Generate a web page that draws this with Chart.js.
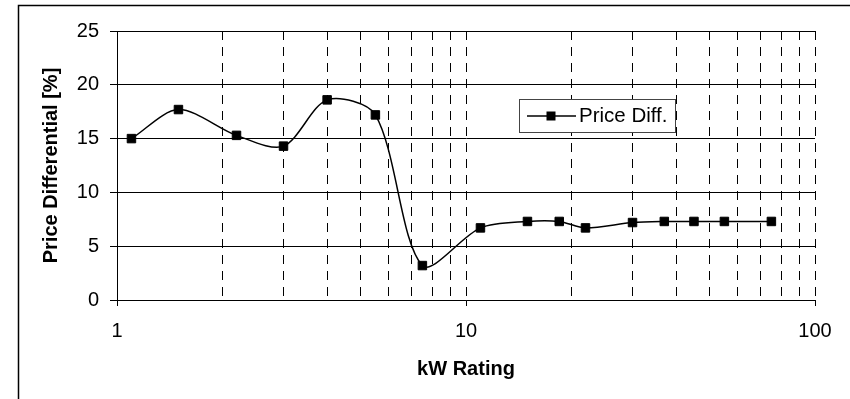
<!DOCTYPE html>
<html>
<head>
  <title>Price Differential vs kW Rating</title>
  <script src="https://cdn.jsdelivr.net/npm/chart.js"></script>
  <style>
    body { margin: 0; background: #fff; }
    #wrap { position: relative; width: 850px; height: 399px; }
  </style>
</head>
<body>

<div id="wrap">
  <canvas id="diffChart" width="850" height="399"></canvas>
</div>

<script>
  // data
  const kwRating  = [1.1, 1.5, 2.2, 3, 4, 5.5, 7.5, 11, 15, 18.5, 22, 30, 37, 45, 55, 75];
  const priceDiff = [15.0, 17.7, 15.3, 14.3, 18.6, 17.2, 3.2, 6.7, 7.3, 7.3, 6.7, 7.2, 7.3, 7.3, 7.3, 7.3];
  const seriesName = 'Price Diff.';

  // axis ticks
  const xGridValues = [1, 2, 3, 4, 5, 6, 7, 8, 9, 10, 20, 30, 40, 50, 60, 70, 80, 90, 100];
  const xTickLabels = [1, 10, 100];
  const yTicks = [0, 5, 10, 15, 20, 25];

  const FONT = 'Arial, "Liberation Sans", sans-serif';

  // outer frame + legend box
  const framePlugin = {
    id: 'frame',
    beforeDraw(chart) {
      const ctx = chart.ctx;
      ctx.save();
      ctx.strokeStyle = '#000';
      ctx.lineWidth = 1.5;
      ctx.beginPath();
      ctx.moveTo(18.5, 420);
      ctx.lineTo(18.5, 5.5);
      ctx.lineTo(860, 5.5);
      ctx.stroke();
      ctx.restore();
    },
    afterDraw(chart) {
      const ctx = chart.ctx;
      const ds = chart.data.datasets[0];
      ctx.save();
      ctx.fillStyle = '#fff';
      ctx.fillRect(519.5, 99.5, 156, 33);
      ctx.strokeStyle = '#444';
      ctx.lineWidth = 1;
      ctx.strokeRect(519.5, 99.5, 156, 33);
      ctx.strokeStyle = '#000';
      ctx.lineWidth = 1.5;
      ctx.beginPath();
      ctx.moveTo(527, 116);
      ctx.lineTo(576, 116);
      ctx.stroke();
      ctx.fillStyle = '#000';
      ctx.fillRect(546.5, 111.5, 9, 9);
      ctx.font = '20.5px ' + FONT;
      ctx.textBaseline = 'middle';
      ctx.textAlign = 'left';
      ctx.fillText(ds.label, 579, 116.5);
      ctx.restore();
    }
  };

  const ctx = document.getElementById('diffChart').getContext('2d');

  new Chart(ctx, {
    type: 'line',
    data: {
      datasets: [{
        label: seriesName,
        data: kwRating.map((kw, i) => ({ x: kw, y: priceDiff[i] })),
        borderColor: '#000',
        borderWidth: 1.5,
        backgroundColor: '#000',
        pointStyle: 'rect',
        pointRadius: 6,
        pointBorderWidth: 1,
        pointBackgroundColor: '#000',
        pointBorderColor: '#000',
        tension: 0.3,
        fill: false
      }]
    },
    options: {
      responsive: false,
      animation: false,
      layout: { padding: { left: 0, top: 31, right: 35, bottom: 0 } },
      plugins: {
        legend: { display: false },
        tooltip: { enabled: false }
      },
      scales: {
        x: {
          type: 'logarithmic',
          min: 1,
          max: 100,
          afterBuildTicks: scale => { scale.ticks = xGridValues.map(v => ({ value: v })); },
          afterFit: scale => { scale.height = 99; },
          grid: {
            color: c => (c.tick && c.tick.value === 1) ? 'rgba(0,0,0,0)' : '#000',
            lineWidth: 1,
            tickLength: 6,
            tickColor: c => (c.tick && xTickLabels.includes(c.tick.value)) ? '#000' : 'rgba(0,0,0,0)'
          },
          border: {
            display: true,
            color: '#000',
            width: 1,
            dash: c => c.tick ? [9, 7] : []
          },
          ticks: {
            autoSkip: false,
            maxRotation: 0,
            padding: 13,
            color: '#000',
            font: { family: FONT, size: 20 },
            callback: v => xTickLabels.includes(v) ? String(v) : ''
          },
          title: {
            display: true,
            text: 'kW Rating',
            color: '#000',
            font: { family: FONT, size: 20, weight: 'bold' },
            padding: { top: 0, bottom: 18 }
          }
        },
        y: {
          min: 0,
          max: 25,
          afterBuildTicks: scale => { scale.ticks = yTicks.map(v => ({ value: v })); },
          afterFit: scale => { scale.width = 117; },
          grid: {
            color: '#000',
            lineWidth: 1,
            tickLength: 7,
            tickColor: '#000'
          },
          border: { display: true, color: '#000', width: 1 },
          ticks: {
            padding: 11,
            color: '#000',
            font: { family: FONT, size: 20 }
          },
          title: {
            display: true,
            text: 'Price Differential [%]',
            color: '#000',
            font: { family: FONT, size: 20, weight: 'bold' },
            padding: { top: 39, bottom: 0 }
          }
        }
      }
    },
    plugins: [framePlugin]
  });
</script>

</body>
</html>
